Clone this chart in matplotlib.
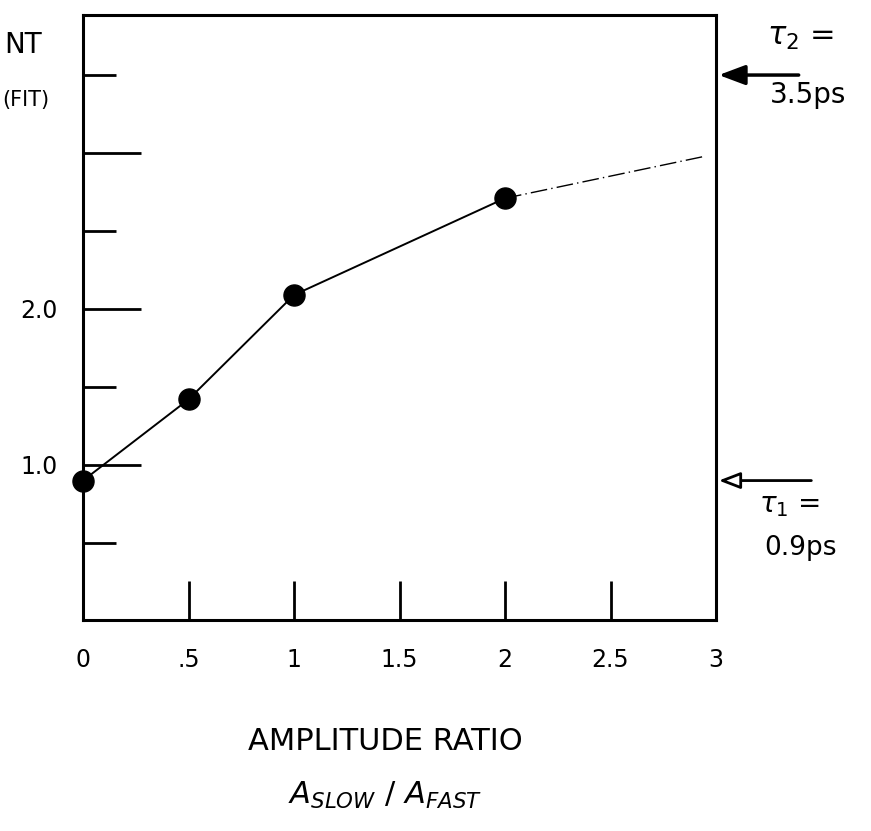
import matplotlib.pyplot as plt

# measured points (amplitude ratio vs. fitted decay constant, ps)
ratio = [0, 0.5, 1, 2]
tau = [0.90, 1.42, 2.09, 2.71]

# hand-drawn extrapolation past the last point
tail_x = [2, 2.95]
tail_y = [2.71, 2.98]

# reference lifetimes marked on the right
tau1 = 0.9
tau2 = 3.5

xtick_pos = [0, 0.5, 1, 1.5, 2, 2.5, 3]
xtick_lab = ["0", ".5", "1", "1.5", "2", "2.5", "3"]
ymajor = [1.0, 2.0, 3.0]
ymajor_lab = ["1.0", "2.0", ""]
yminor = [0.5, 1.5, 2.5, 3.5]

fig = plt.figure(figsize=(8.71, 8.31), dpi=100)
ax = fig.add_axes([83 / 871, 1 - 620 / 831, 633 / 871, 605 / 831])

ax.set_xlim(0, 3)
ax.set_ylim(0.006, 3.885)
for s in ax.spines.values():
    s.set_linewidth(2.2)

# data line + dots
ax.plot(ratio, tau, color="black", lw=1.4, zorder=2)
ax.plot(tail_x, tail_y, color="black", lw=1.0, ls=(0, (12, 3, 1, 3)), zorder=2)
ax.scatter(ratio, tau, s=230, color="black", zorder=3, clip_on=False)

# ticks
ax.set_xticks(xtick_pos)
ax.set_xticklabels(xtick_lab, fontsize=17)
ax.tick_params(axis="x", direction="in", length=28, width=2, pad=20)
ax.set_yticks(ymajor)
ax.set_yticklabels(ymajor_lab, fontsize=17)
ax.set_yticks(yminor, minor=True)
ax.tick_params(axis="y", which="major", direction="in", length=42, width=2, pad=18)
ax.tick_params(axis="y", which="minor", direction="in", length=24, width=2)

# axis titles
fig.text(385 / 871, 1 - 742 / 831, "AMPLITUDE RATIO", fontsize=22,
         ha="center", va="center")
fig.text(385 / 871, 1 - 795 / 831, r"$A_{SLOW}$ / $A_{FAST}$", fontsize=22,
         ha="center", va="center")
# the left-hand axis title is mostly off the page; only its tail shows
fig.text(4 / 871, 1 - 45 / 831, "NT", fontsize=20, ha="left", va="center")
fig.text(2 / 871, 1 - 100 / 831, "(FIT)", fontsize=15, ha="left", va="center")

# right-hand arrows
ax.annotate("", xy=(1.0, tau2), xytext=(1.135, tau2),
            xycoords=("axes fraction", "data"), textcoords=("axes fraction", "data"),
            arrowprops=dict(arrowstyle="-|>,head_length=1.6,head_width=0.6",
                            color="black", lw=2.5), annotation_clip=False)
ax.annotate("", xy=(1.0, tau1), xytext=(1.155, tau1),
            xycoords=("axes fraction", "data"), textcoords=("axes fraction", "data"),
            arrowprops=dict(arrowstyle="-|>,head_length=1.3,head_width=0.5",
                            facecolor="white", edgecolor="black", lw=2),
            annotation_clip=False)
fig.text(800 / 871, 1 - 38 / 831, r"$\tau_2$ =", fontsize=22, ha="center", va="center")
fig.text(808 / 871, 1 - 95 / 831, "3.5ps", fontsize=20, ha="center", va="center")
fig.text(790 / 871, 1 - 505 / 831, r"$\tau_1$ =", fontsize=20, ha="center", va="center")
fig.text(800 / 871, 1 - 548 / 831, "0.9ps", fontsize=19, ha="center", va="center")

plt.savefig("out.png", dpi=100)
